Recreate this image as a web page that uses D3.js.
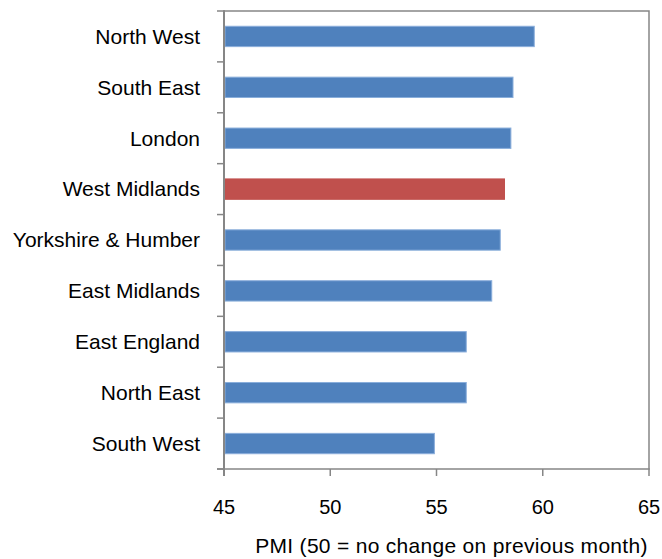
<!DOCTYPE html>
<html>
<head>
<meta charset="utf-8">
<script src="https://cdn.jsdelivr.net/npm/d3@7"></script>
<style>
  html, body { margin: 0; padding: 0; background: #fff; }
  svg { display: block; font-family: "Liberation Sans", Arial, sans-serif; }
</style>
</head>
<body>
<svg id="chart" width="662" height="559"></svg>
<script>
// Regional PMI readings, top to bottom
const regions = ["North West", "South East", "London", "West Midlands", "Yorkshire & Humber",
                 "East Midlands", "East England", "North East", "South West"];
const pmi = [59.6, 58.6, 58.5, 58.2, 58.0, 57.6, 56.4, 56.4, 54.9];
const highlighted = ["West Midlands"];
const xTicks = [45, 50, 55, 60, 65];
const xDomain = [45, 65];
const xTitle = "PMI (50 = no change on previous month)";

const svg = d3.select("#chart");
const plot = { left: 224, right: 649, top: 11, bottom: 469 };
const axisColor = "#868686";

const x = d3.scaleLinear().domain(xDomain).range([plot.left, plot.right]);
const y = d3.scaleBand().domain(regions).range([plot.top, plot.bottom])
  .paddingInner(0.6).paddingOuter(0.3);
const yEdges = d3.scaleLinear().domain([0, regions.length]).range([plot.top, plot.bottom]);

// Plot-area frame (top and right)
svg.append("path")
  .attr("d", `M${plot.left},${plot.top}H${plot.right}V${plot.bottom}`)
  .attr("fill", "none").attr("stroke", axisColor).attr("stroke-width", 1.5);

// Bars
svg.append("g").selectAll("rect")
  .data(regions.map((r, i) => ({ region: r, value: pmi[i] })))
  .join("rect")
  .attr("x", x(xDomain[0]) + 1)
  .attr("y", d => y(d.region))
  .attr("width", d => x(d.value) - x(xDomain[0]) - 1)
  .attr("height", y.bandwidth())
  .attr("fill", d => highlighted.includes(d.region) ? "#C0504D" : "#4F81BD")
  .attr("stroke", d => highlighted.includes(d.region) ? "#C0504D" : "#8AAEDB")
  .attr("stroke-width", 1);

// Category axis: ticks between bands
const gy = svg.append("g");
gy.selectAll("line.tick")
  .data(d3.range(regions.length + 1))
  .join("line")
  .attr("x1", plot.left - 7).attr("x2", plot.left)
  .attr("y1", d => yEdges(d)).attr("y2", d => yEdges(d))
  .attr("stroke", axisColor).attr("stroke-width", 1.5);
gy.append("line")
  .attr("x1", plot.left).attr("x2", plot.left)
  .attr("y1", plot.top - 0.75).attr("y2", plot.bottom + 7)
  .attr("stroke", axisColor).attr("stroke-width", 2);
gy.selectAll("text")
  .data(regions)
  .join("text")
  .attr("x", 200)
  .attr("y", d => y(d) + y.bandwidth() / 2)
  .attr("dy", "0.35em")
  .attr("text-anchor", "end")
  .attr("font-size", 21)
  .attr("fill", "#000")
  .text(d => d);

// Value axis
const gx = svg.append("g");
gx.append("line")
  .attr("x1", plot.left - 7).attr("x2", plot.right + 0.75)
  .attr("y1", plot.bottom).attr("y2", plot.bottom)
  .attr("stroke", axisColor).attr("stroke-width", 1.5);
gx.selectAll("line.tick")
  .data(xTicks)
  .join("line")
  .attr("x1", d => x(d)).attr("x2", d => x(d))
  .attr("y1", plot.bottom).attr("y2", plot.bottom + 7)
  .attr("stroke", axisColor).attr("stroke-width", 1.5);
gx.selectAll("text")
  .data(xTicks)
  .join("text")
  .attr("x", d => x(d))
  .attr("y", 507)
  .attr("dy", "0.35em")
  .attr("text-anchor", "middle")
  .attr("font-size", 20)
  .attr("fill", "#000")
  .text(d => d);

svg.append("text")
  .attr("x", 451.5).attr("y", 553)
  .attr("text-anchor", "middle")
  .attr("font-size", 21)
  .attr("letter-spacing", 0.3)
  .attr("fill", "#000")
  .text(xTitle);
</script>
</body>
</html>
